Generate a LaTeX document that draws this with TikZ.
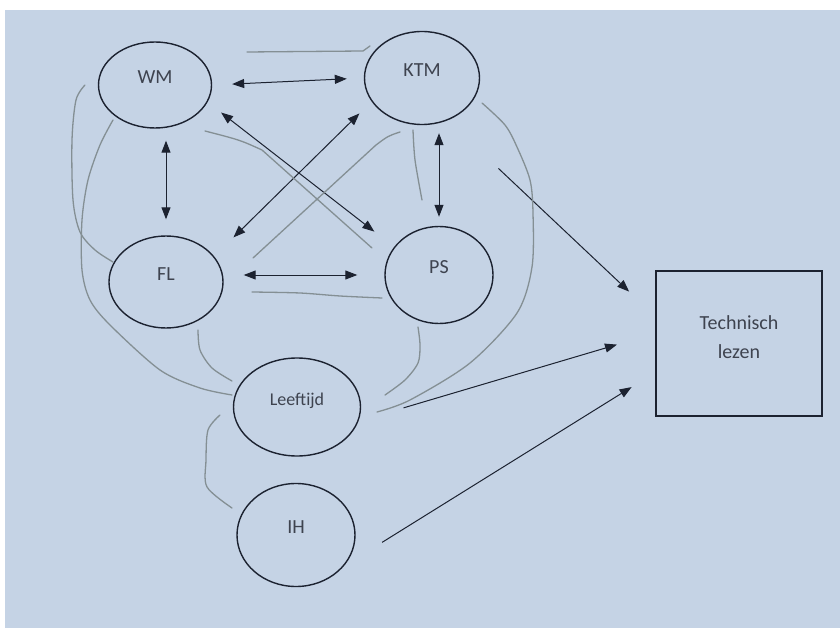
\documentclass[tikz,border=0pt]{standalone}
\usepackage{fontspec}
\setmainfont{Carlito}
\usetikzlibrary{arrows.meta}
\usetikzlibrary{shapes.geometric}

\definecolor{paper}{RGB}{197,211,229}
\definecolor{ink}{RGB}{28,34,48}
\definecolor{pencil}{RGB}{132,143,148}

\tikzset{
    bubble/.style={ellipse, draw=ink, line width=1.4pt, text=ink!85, inner sep=0pt,
        font=\fontsize{20}{24}\selectfont, text height=14pt, text depth=17pt},
    twoway/.style={draw=ink, line width=1pt, {Triangle[length=12pt,width=9pt]}-{Triangle[length=12pt,width=9pt]}},
    oneway/.style={draw=ink, line width=1pt, -{Triangle[length=12pt,width=9pt]}},
    sketchline/.style={draw=pencil, line width=1.3pt, line cap=round, line join=round},
}

\begin{document}
\begin{tikzpicture}[x=1pt,y=-1pt]
    \fill[white] (0,0) rectangle (840,628);
    \fill[paper] (5,10) rectangle (840,628);
    \useasboundingbox (0,0) rectangle (840,628);

    \node[bubble, minimum width=113pt, minimum height=86pt] (wm) at (155,85) {WM};
    \node[bubble, minimum width=115pt, minimum height=93pt] (ktm) at (422,78) {KTM};
    \node[bubble, minimum width=114pt, minimum height=92pt] (fl) at (166,282) {FL};
    \node[bubble, minimum width=108pt, minimum height=97pt] (ps) at (439,275) {PS};
    \node[bubble, minimum width=127pt, minimum height=98pt, font=\fontsize{18}{22}\selectfont] (lt) at (297,407) {Leeftijd};
    \node[bubble, minimum width=118pt, minimum height=103pt] (ih) at (296,535) {IH};
    \node[draw=ink, line width=1.3pt, minimum width=166pt, minimum height=145pt, align=center,
        text=ink!85, font=\fontsize{20}{24}\selectfont] (tl) at (739,343.5)
        {Technisch\\[5pt]lezen\rule[-13pt]{0pt}{1pt}};

    \draw[twoway, shorten <=20pt, shorten >=17pt] (wm.east) -- (ktm.west);
    \draw[twoway, shorten <=12pt, shorten >=16pt] (fl.north |- wm.south) -- (fl.north);
    \draw[twoway, shorten <=8pt, shorten >=9pt] (ps.north |- ktm.south) -- (ps.north);
    \draw[twoway, shorten <=20pt, shorten >=27pt] (fl.east |- ps.west) -- (ps.west);
    \draw[twoway, shorten <=17pt, shorten >=25pt] (wm.-18) -- (ps.148);
    \draw[twoway, shorten <=17pt, shorten >=27pt] (ktm.205) -- (fl.28);

    \draw[oneway, shorten <=70pt, shorten >=36pt] (ktm.-59) -- (tl.162);
    \draw[oneway, shorten <=47pt, shorten >=40pt] (lt.-13) -- (tl.173);
    \draw[oneway, shorten <=45pt, shorten >=28pt] (ih.-33) -- (tl.199);

    \draw[sketchline] (247,52) -- (363,51) -- (370,46);
    \draw[sketchline] plot[smooth] coordinates {(85,85) (76,100) (72,140) (73,200) (80,232) (95,250) (113,262)};
    \draw[sketchline] plot[smooth] coordinates {(113,120) (100,145) (88,180) (82,220) (82,270) (90,300) (110,325) (160,370) (200,388) (232,395)};
    \draw[sketchline] plot[smooth] coordinates {(198,330) (200,350) (212,368) (232,381)};
    \draw[sketchline] (205,131) .. controls (240,140) .. (262,150) -- (372,248);
    \draw[sketchline] (400,132) .. controls (388,136) .. (376,145) -- (253,258);
    \draw[sketchline] plot[smooth] coordinates {(413,130) (415,160) (422,200)};
    \draw[sketchline] plot[smooth] coordinates {(252,292) (300,293) (340,296) (382,298)};
    \draw[sketchline] plot[smooth] coordinates {(482,103) (505,125) (517,147) (530,180) (533,213) (532,267) (517,313) (470,363) (410,400) (377,412)};
    \draw[sketchline] plot[smooth] coordinates {(418,327) (420,345) (418,363) (405,380) (385,395)};
    \draw[sketchline] plot[smooth] coordinates {(220,415) (208,430) (206,460) (207,487) (232,508)};
\end{tikzpicture}
\end{document}
